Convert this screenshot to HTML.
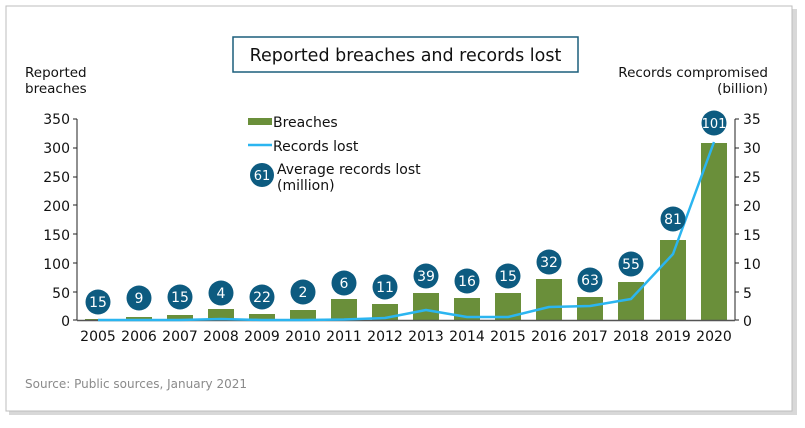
<!DOCTYPE html>
<html><head><meta charset="utf-8"><style>
body{margin:0;background:#fff;width:805px;height:423px;overflow:hidden}
svg text{font-family:"DejaVu Sans","Liberation Sans",sans-serif;fill:#111}
svg text.w{fill:#fff}
svg text.s{fill:#8a8a8a}
</style></head><body>
<svg width="805" height="423" xmlns="http://www.w3.org/2000/svg">
<rect x="9" y="9" width="788" height="406" fill="#d8d8d8"/>
<rect x="6" y="6" width="786" height="405" fill="#fff" stroke="#bdbdbd" stroke-width="1"/>
<rect x="233" y="37" width="345" height="35" fill="#fff" stroke="#1b5f7c" stroke-width="1.5"/>
<text x="405.5" y="61" font-size="17.5" text-anchor="middle">Reported breaches and records lost</text>
<text x="25" y="77" font-size="13.5">Reported</text>
<text x="25" y="93" font-size="13.5">breaches</text>
<text x="768" y="77" font-size="13.5" text-anchor="end">Records compromised</text>
<text x="768" y="93" font-size="13.5" text-anchor="end">(billion)</text>
<g font-size="14" text-anchor="end">
<text x="70" y="124">350</text><text x="70" y="153">300</text><text x="70" y="182">250</text><text x="70" y="211">200</text><text x="70" y="240">150</text><text x="70" y="269">100</text><text x="70" y="298">50</text><text x="70" y="326">0</text>
</g>
<g font-size="14">
<text x="743" y="124">35</text><text x="743" y="153">30</text><text x="743" y="182">25</text><text x="743" y="211">20</text><text x="743" y="240">15</text><text x="743" y="269">10</text><text x="743" y="298">5</text><text x="743" y="326">0</text>
</g>
<g stroke="#222" stroke-width="1">
<path d="M77 119V320M73 119H77M73 148H77M73 177H77M73 205H77M73 234H77M73 263H77M73 292H77M73 320H77"/>
<path d="M735 119V320M735 119H739M735 148H739M735 177H739M735 205H739M735 234H739M735 263H739M735 292H739M735 320H739"/>
</g>
<g fill="#6a8f3a">
<rect x="85" y="319" width="26" height="1"/>
<rect x="126" y="317" width="26" height="3"/>
<rect x="167" y="315" width="26" height="5"/>
<rect x="208" y="309" width="26" height="11"/>
<rect x="249" y="314" width="26" height="6"/>
<rect x="290" y="310" width="26" height="10"/>
<rect x="331" y="299" width="26" height="21"/>
<rect x="372" y="304" width="26" height="16"/>
<rect x="413" y="293" width="26" height="27"/>
<rect x="454" y="298" width="26" height="22"/>
<rect x="495" y="293" width="26" height="27"/>
<rect x="536" y="279" width="26" height="41"/>
<rect x="577" y="297" width="26" height="23"/>
<rect x="618" y="282" width="26" height="38"/>
<rect x="660" y="240" width="26" height="80"/>
<rect x="701" y="143" width="26" height="177"/>
</g>
<path d="M77 320.5H735" stroke="#555" stroke-width="1.5"/>
<polyline fill="none" stroke="#2bb5f0" stroke-width="2.5" stroke-linejoin="round" points="98,320 139,320 180,320 221,319 262,320 303,320 344,319.5 385,318 426,310 467,317 508,317 549,307 590,306 631,299 673,254 714,142"/>
<g fill="#0d5b80">
<circle cx="98" cy="302" r="12.5"/><circle cx="139" cy="298" r="12.5"/><circle cx="180" cy="297" r="12.5"/><circle cx="221" cy="293" r="12.5"/><circle cx="262" cy="297" r="12.5"/><circle cx="303" cy="292" r="12.5"/><circle cx="344" cy="283" r="12.5"/><circle cx="385" cy="287" r="12.5"/><circle cx="426" cy="276" r="12.5"/><circle cx="467" cy="281" r="12.5"/><circle cx="508" cy="276" r="12.5"/><circle cx="549" cy="262" r="12.5"/><circle cx="590" cy="280" r="12.5"/><circle cx="631" cy="264" r="12.5"/><circle cx="673" cy="219" r="12.5"/><circle cx="714" cy="123" r="12.5"/>
<circle cx="262" cy="175" r="12"/>
</g>
<g font-size="14" text-anchor="middle">
<text class="w" x="98" y="307">15</text><text class="w" x="139" y="303">9</text><text class="w" x="180" y="302">15</text><text class="w" x="221" y="298">4</text><text class="w" x="262" y="302">22</text><text class="w" x="303" y="297">2</text><text class="w" x="344" y="288">6</text><text class="w" x="385" y="292">11</text><text class="w" x="426" y="281">39</text><text class="w" x="467" y="286">16</text><text class="w" x="508" y="281">15</text><text class="w" x="549" y="267">32</text><text class="w" x="590" y="285">63</text><text class="w" x="631" y="269">55</text><text class="w" x="673" y="224">81</text><text class="w" x="714" y="128" font-size="13">101</text>
<text class="w" x="262" y="180" font-size="13">61</text>
</g>
<g font-size="14" text-anchor="middle">
<text x="98" y="341">2005</text><text x="139" y="341">2006</text><text x="180" y="341">2007</text><text x="221" y="341">2008</text><text x="262" y="341">2009</text><text x="303" y="341">2010</text><text x="344" y="341">2011</text><text x="385" y="341">2012</text><text x="426" y="341">2013</text><text x="467" y="341">2014</text><text x="508" y="341">2015</text><text x="549" y="341">2016</text><text x="590" y="341">2017</text><text x="631" y="341">2018</text><text x="673" y="341">2019</text><text x="714" y="341">2020</text>
</g>
<rect x="248" y="118" width="24" height="7" fill="#6a8f3a"/>
<text x="273" y="127" font-size="14">Breaches</text>
<path d="M248 145H272" stroke="#2bb5f0" stroke-width="2.5"/>
<text x="273" y="151" font-size="14">Records lost</text>
<text x="277" y="174" font-size="14">Average records lost</text>
<text x="277" y="190" font-size="14">(million)</text>
<text class="s" x="25" y="388" font-size="12">Source: Public sources, January 2021</text>
</svg>
</body></html>
